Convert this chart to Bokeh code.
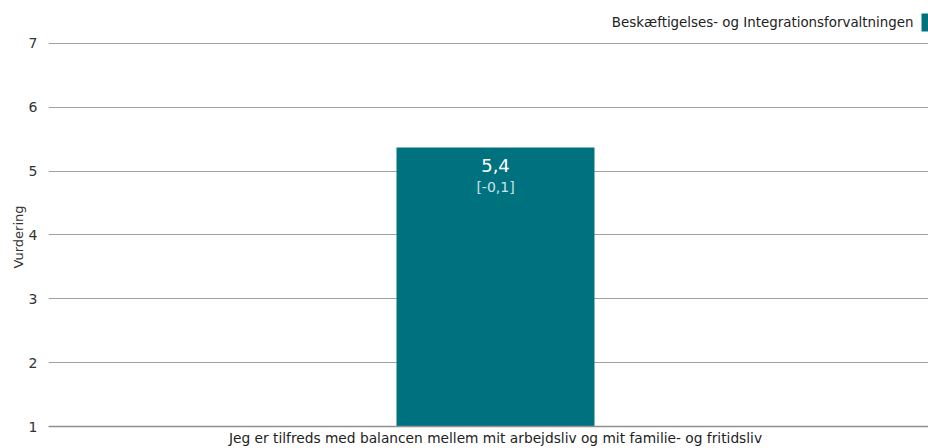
from bokeh.plotting import figure
from bokeh.models import Range1d, FixedTicker, ColumnDataSource, Title
from bokeh.core.properties import value
from bokeh.embed import file_html
from bokeh.resources import INLINE

# ---- data ----
categories = ["Jeg er tilfreds med balancen mellem mit arbejdsliv og mit familie- og fritidsliv"]
series_name = "Beskæftigelses- og Integrationsforvaltningen"
values = [5.37]
diff_labels = ["[-0,1]"]
y_ticks = [1, 2, 3, 4, 5, 6, 7]
y_title = "Vurdering"

# ---- layout constants (pixels) ----
W, H = 928, 448
left_border, bottom_border = 48, 21
frame_w = W - left_border
frame_h = H - bottom_border
top_px = 43            # where y=7 sits below the figure top
bar_px = 198           # bar width in px
bar_center_px = 447    # bar centre offset inside the frame
y_title_len_px = 62    # approx. length of the rotated y title

FONT = "DejaVu Sans"
TEAL = "#00727f"

unit = (frame_h - top_px) / (y_ticks[-1] - y_ticks[0])
y_end = y_ticks[-1] + top_px / unit
x_start = -bar_center_px / bar_px
x_end = (frame_w - bar_center_px) / bar_px

p = figure(width=W, height=H, output_backend="svg", toolbar_location=None,
           x_range=Range1d(x_start, x_end), y_range=Range1d(y_ticks[0], y_end),
           min_border_left=left_border, min_border_bottom=bottom_border,
           min_border_top=0, min_border_right=0)
p.outline_line_color = None
p.background_fill_color = "white"
p.border_fill_color = "white"

xs = list(range(len(categories)))
src = ColumnDataSource(dict(
    x=xs, top=values,
    lab=[f"{v:.1f}".replace(".", ",") for v in values],
    diff=diff_labels,
))
p.vbar(x="x", top="top", bottom=y_ticks[0], width=1, source=src,
       fill_color=TEAL, line_color=None)

p.text(x="x", y="top", text="lab", source=src, text_align="center",
       text_baseline="middle", y_offset=18, text_color="white",
       text_font=value(FONT), text_font_size="18px")
p.text(x="x", y="top", text="diff", source=src, text_align="center",
       text_baseline="middle", y_offset=40, text_color="#cde2e5",
       text_font=value(FONT), text_font_size="14px")

# legend (label then swatch, top right)
leg_y = y_ticks[-1] + 21 / unit
sw_right_px = frame_w
sw_w = 7
text_right_px = sw_right_px - sw_w - 8
p.rect(x=[(sw_right_px - sw_w / 2 - bar_center_px) / bar_px], y=[leg_y],
       width=sw_w, height=18, width_units="screen", height_units="screen",
       fill_color=TEAL, line_color=None)
p.text(x=[(text_right_px - bar_center_px) / bar_px], y=[leg_y], text=[series_name],
       text_align="right", text_baseline="middle", text_color="#222222",
       text_font=value(FONT), text_font_size="13.4px")

# y axis title, positioned so it is centred on the 1..7 span
plot_span_px = frame_h - top_px
title_offset = plot_span_px / 2 - y_title_len_px / 2 - 3
p.add_layout(Title(text=y_title, align="left", offset=title_offset,
                   text_font=FONT, text_font_size="13px", text_font_style="normal",
                   text_color="#333333", standoff=0), "left")

# axes
p.xgrid.visible = False
p.ygrid.grid_line_color = "#a0a0a0"
p.ygrid.grid_line_width = 1
p.yaxis.ticker = FixedTicker(ticks=y_ticks)
p.yaxis.axis_line_color = None
p.yaxis.major_tick_line_color = None
p.yaxis.major_tick_out = 0
p.yaxis.major_tick_in = 0
p.yaxis.minor_tick_line_color = None
p.yaxis.major_label_standoff = 11
p.yaxis.major_label_text_font = FONT
p.yaxis.major_label_text_font_size = "14px"
p.yaxis.major_label_text_color = "#333333"

p.xaxis.ticker = FixedTicker(ticks=xs)
p.xaxis.major_label_overrides = {i: c for i, c in zip(xs, categories)}
p.xaxis.axis_line_color = "#909090"
p.xaxis.axis_line_width = 1.5
p.xaxis.major_tick_line_color = None
p.xaxis.major_tick_out = 0
p.xaxis.major_tick_in = 0
p.xaxis.minor_tick_line_color = None
p.xaxis.major_label_standoff = 3
p.xaxis.major_label_text_font = FONT
p.xaxis.major_label_text_font_size = "13.75px"
p.xaxis.major_label_text_color = "#222222"

open("out.html", "w").write(file_html(p, INLINE))
